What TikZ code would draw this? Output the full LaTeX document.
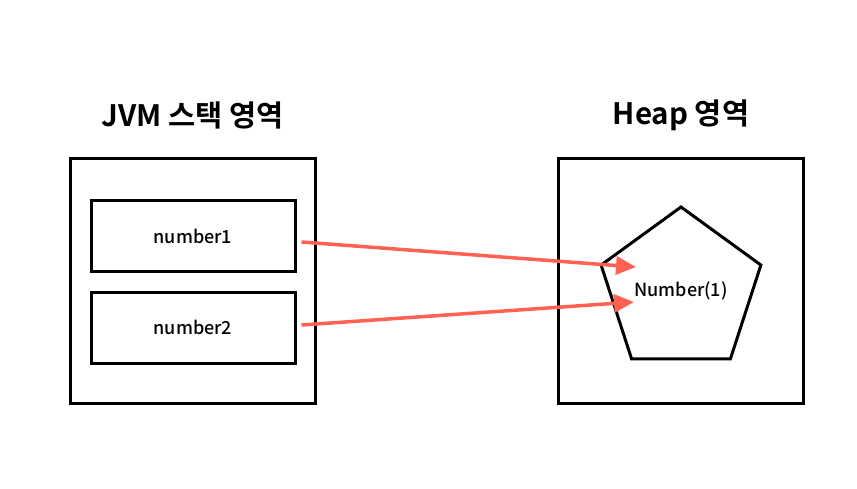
\documentclass[tikz,border=0pt]{standalone}
\usepackage{fontspec}
\setmainfont{Noto Sans CJK KR}[BoldFont={Noto Sans CJK KR Bold}]
\newfontfamily\medfont{Noto Sans CJK KR Medium}
\usetikzlibrary{shapes.geometric,arrows.meta}
\definecolor{ptrred}{RGB}{255,98,82}
\begin{document}
\begin{tikzpicture}[x=1pt,y=-1pt,
    area/.style={draw, line width=3pt, minimum width=245pt, minimum height=245pt},
    slot/.style={draw, line width=3pt, minimum width=204pt, minimum height=71pt, font=\medfont\fontsize{18}{21}\selectfont},
    title/.style={font=\fontsize{29.5}{34}\selectfont\bfseries},
    ptr/.style={ptrred, line width=3.5pt, -{Triangle[length=20pt,width=18pt]}}]
    \useasboundingbox (0,0) rectangle (857,488);
    % stack side
    \node[title] (stacktitle) at (193,115) {JVM 스택 영역};
    \node[area] (stack) at (192.5,280.5) {};
    \node[slot] (num1) at (193,236) {number1};
    \node[slot] (num2) at (193,327.5) {number2};
    % heap side
    \node[title] (heaptitle) at (681,115) {Heap 영역};
    \node[area] (heap) at (681,280.5) {};
    \node[draw, regular polygon, regular polygon sides=5, minimum size=168pt, inner sep=0pt,
        line width=3pt, font=\medfont\fontsize{18}{21}\selectfont] (obj) at (681,291) {Number(1)};
    % references
    \coordinate (tip1) at (636,267);
    \coordinate (tip2) at (634,302);
    \draw[ptr] ([shift={(5,6)}]num1.east) -- (tip1);
    \draw[ptr] ([shift={(5,-2.5)}]num2.east) -- (tip2);
\end{tikzpicture}
\end{document}
